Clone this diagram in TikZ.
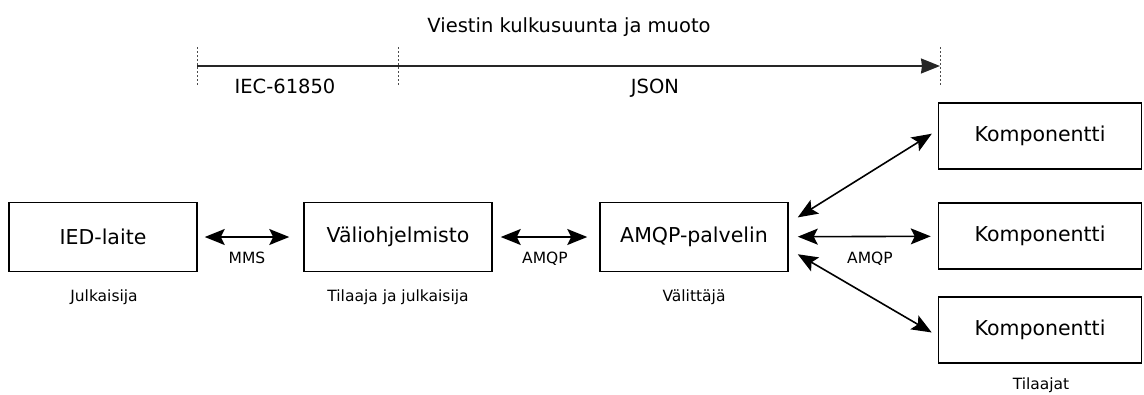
\documentclass[tikz,border=0pt]{standalone}
\usepackage{fontspec}
\setmainfont{DejaVu Sans}
\usetikzlibrary{arrows.meta}
\tikzset{
  box/.style={draw, line width=1.5pt, minimum width=188pt, minimum height=69pt, inner sep=0pt, font=\fontsize{20.5}{24}\selectfont},
  kbox/.style={box, minimum width=203pt, minimum height=66pt},
  lbl/.style={anchor=base, font=\fontsize{15.5}{18}\selectfont},
  biglbl/.style={anchor=base, font=\fontsize{19.5}{24}\selectfont},
  tip/.tip={Stealth[length=20pt, width=16pt, inset=4pt]},
  both/.style={tip-tip, line width=1.6pt},
  dashtick/.style={dash pattern=on 2pt off 2pt, line width=0.8pt, black!70}
}
\begin{document}
\begin{tikzpicture}[x=1pt, y=-1pt]
    \useasboundingbox (0,0) rectangle (1144,394);
    \coordinate (t1) at (197,66);
    \coordinate (t2) at (398,66);
    \coordinate (t3) at (940,66);
    \draw[dashtick] (197,47) -- (197,86);
    \draw[dashtick] (398,47) -- (398,86);
    \draw[dashtick] (940,47) -- (940,86);
    \draw[-{Stealth[length=19pt, width=15pt, inset=1pt]}, line width=1.5pt, black!85] (t1) -- (t3);
    \node[biglbl] (title) at (569,32) {Viestin kulkusuunta ja muoto};
    \node[biglbl] (iec) at (285,93) {IEC-61850};
    \node[biglbl] (json) at (655,93) {JSON};

    \node[box] (ied) at (103,237) {IED-laite};
    \node[box] (vali) at (398,237) {Väliohjelmisto};
    \node[box] (amqp) at (694,237) {AMQP-palvelin};
    \node[kbox] (komp1) at (1040,136) {Komponentti};
    \node[kbox] (komp2) at (1040,236) {Komponentti};
    \node[kbox] (komp3) at (1040,330) {Komponentti};

    \draw[both, shorten <=7pt, shorten >=14pt] (ied) -- (vali);
    \draw[both, shorten <=8pt, shorten >=12pt] (vali) -- (amqp);
    \draw[both, shorten <=9pt, shorten >=7pt] (amqp) -- (komp2);
    \draw[both, shorten <=10.6pt, shorten >=7pt] ([yshift=14pt]amqp.east) -- ([yshift=6pt]komp1.west);
    \draw[both, shorten <=10.4pt, shorten >=7pt] ([yshift=-12pt]amqp.east) -- ([yshift=-6pt]komp3.west);

    \node[lbl] (mms) at (247,263) {MMS};
    \node[lbl] (amqpa) at (545,263) {AMQP};
    \node[lbl] (amqpb) at (870,263) {AMQP};
    \node[lbl] (julk) at (104,301) {Julkaisija};
    \node[lbl] (tilj) at (398,301) {Tilaaja ja julkaisija};
    \node[lbl] (valit) at (694,301) {Välittäjä};
    \node[lbl] (tilat) at (1041,389) {Tilaajat};
\end{tikzpicture}
\end{document}
